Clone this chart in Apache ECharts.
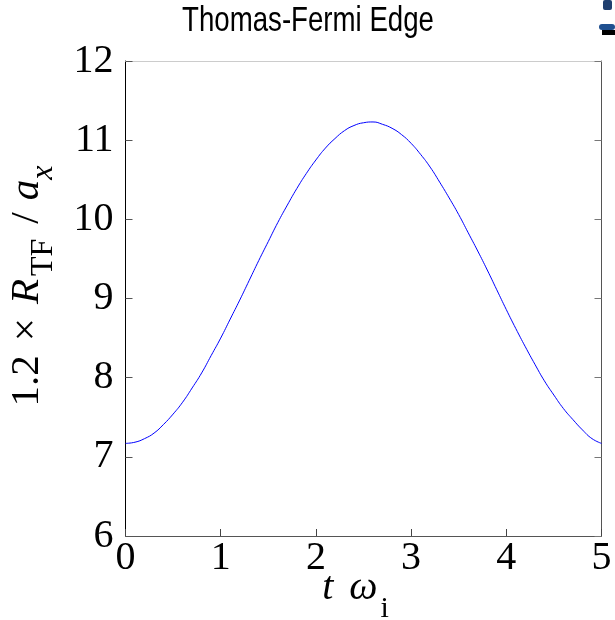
<!DOCTYPE html>
<html><head><meta charset="utf-8">
<script src="https://cdn.jsdelivr.net/npm/echarts@6/dist/echarts.min.js"></script>
<style>html,body{margin:0;padding:0;background:#fff}#c{width:615px;height:620px}</style>
</head><body><div id="c"></div>
<script>
const titleText = 'Thomas-Fermi Edge';
const xTicks = [0, 1, 2, 3, 4, 5];
const yTicks = [6, 7, 8, 9, 10, 11, 12];
const tValues = [0,0.1,0.2,0.3,0.4,0.5,0.6,0.7,0.8,0.9,1.0,1.1,1.2,1.3,1.4,1.5,1.6,1.7,1.8,1.9,2.0,2.1,2.2,2.3,2.4,2.5,2.6,2.7,2.8,2.9,3.0,3.1,3.2,3.3,3.4,3.5,3.6,3.7,3.8,3.9,4.0,4.1,4.2,4.3,4.4,4.5,4.6,4.7,4.8,4.9,5.0];
const rValues = [7.17,7.185,7.23,7.30,7.41,7.54,7.69,7.87,8.06,8.28,8.50,8.74,8.98,9.23,9.48,9.72,9.96,10.18,10.39,10.58,10.75,10.90,11.02,11.12,11.185,11.22,11.23,11.20,11.15,11.07,10.96,10.82,10.66,10.47,10.27,10.06,9.83,9.60,9.36,9.11,8.86,8.62,8.39,8.17,7.96,7.78,7.61,7.47,7.34,7.23,7.17];

const W = 615, H = 620;
const G = {left: 125.5, right: 13.5, top: 61, bottom: 84};
const gw = W - G.left - G.right, gh = H - G.top - G.bottom;
const serif = '"Liberation Serif","Times New Roman",serif';
const xMin = xTicks[0], xMax = xTicks[xTicks.length-1];
const yMin = yTicks[0], yMax = yTicks[yTicks.length-1];
const noLab = {show: false};
function tickAxis(pos, off, color) {
  return {
    type: 'value', interval: 1, position: pos, offset: off,
    axisLine: {show: false, onZero: false},
    axisTick: {show: true, length: 7, lineStyle: {color: color, width: 1}},
    axisLabel: noLab, splitLine: {show: false}
  };
}
const chart = echarts.init(document.getElementById('c'));
chart.setOption({
  animation: false,
  backgroundColor: '#fff',
  grid: Object.assign({outerBoundsMode: 'none', containLabel: false}, G),
  xAxis: [{
    type: 'value', min: xMin, max: xMax, interval: 1,
    position: 'bottom',
    axisLine: {onZero: false, lineStyle: {color: '#555', width: 1}},
    axisTick: {show: false},
    axisLabel: {fontFamily: serif, fontSize: 40, color: '#000', margin: 2},
    splitLine: {show: false},
    name: '{t|t}{w|ω}{s|i}', nameLocation: 'middle', nameGap: 32, nameMoveOverlap: false,
    nameTextStyle: {
      padding: [0, 16, 0, 0],
      rich: {
        t: {fontFamily: serif, fontStyle: 'italic', fontSize: 40, color: '#000', lineHeight: 40, verticalAlign: 'top', padding: [0, 16, 0, 0]},
        w: {fontFamily: serif, fontStyle: 'italic', fontSize: 40, color: '#000', lineHeight: 40, verticalAlign: 'top'},
        s: {fontFamily: serif, fontSize: 30, color: '#000', lineHeight: 56, verticalAlign: 'bottom', padding: [0, 0, 0, 3]}
      }
    }
  }, {
    type: 'value', min: xMin, max: xMax, position: 'top',
    axisLine: {show: true, onZero: false, lineStyle: {color: '#ccc', width: 1}},
    axisTick: {show: false}, axisLabel: noLab, splitLine: {show: false}
  },
  Object.assign(tickAxis('top', -gh, '#444'), {min: xMin, max: xMax})
  ],
  yAxis: [{
    type: 'value', min: yMin, max: yMax, interval: 1,
    position: 'left',
    axisLine: {show: true, onZero: false, lineStyle: {color: '#000', width: 1}},
    axisTick: {show: false},
    axisLabel: {fontFamily: serif, fontSize: 40, color: '#000', margin: 12},
    splitLine: {show: false},
    name: '{n|1.2}{m|×}{i|R}{s|TF}{d|/}{i|a}{si|x}', nameLocation: 'middle', nameGap: 66, nameRotate: 90, nameMoveOverlap: false,
    nameTextStyle: {
      padding: [0, 0, 0, 25],
      rich: {
        n: {fontFamily: serif, fontSize: 41, color: '#000', lineHeight: 40, verticalAlign: 'top'},
        m: {fontFamily: serif, fontSize: 41, color: '#000', lineHeight: 40, verticalAlign: 'top', padding: [0, 14, 0, 14]},
        d: {fontFamily: serif, fontSize: 41, color: '#000', lineHeight: 40, verticalAlign: 'top', padding: [0, 12, 0, 12]},
        i: {fontFamily: serif, fontStyle: 'italic', fontSize: 41, color: '#000', lineHeight: 40, verticalAlign: 'top'},
        s: {fontFamily: serif, fontSize: 32, color: '#000', lineHeight: 53, verticalAlign: 'bottom', padding: [0, 3, 0, 3]},
        si: {fontFamily: serif, fontStyle: 'italic', fontSize: 32, color: '#000', lineHeight: 53, verticalAlign: 'bottom'}
      }
    }
  }, {
    type: 'value', min: yMin, max: yMax, interval: 1, position: 'right',
    axisLine: {show: true, onZero: false, lineStyle: {color: '#555', width: 1}},
    axisTick: {show: false}, axisLabel: noLab, splitLine: {show: false}
  },
  Object.assign(tickAxis('right', -gw, '#555'), {min: yMin, max: yMax}),
  Object.assign(tickAxis('left', -gw, '#777'), {min: yMin, max: yMax})
  ],
  graphic: [
    {type: 'text', x: 308, y: 21, scaleX: 0.79,
     style: {text: titleText, fontFamily: '"Liberation Sans",Arial,sans-serif', fontSize: 35, fill: '#000', textAlign: 'center', textVerticalAlign: 'middle'}},
    {type: 'rect', shape: {x: 603, y: 0, width: 9, height: 10, r: 2}, style: {fill: '#1f3f6f'}},
    {type: 'rect', shape: {x: 599, y: 24, width: 16, height: 6, r: 3}, style: {fill: '#1f4f8f'}},
    {type: 'rect', shape: {x: 602, y: 30, width: 13, height: 5}, style: {fill: '#000'}}
  ],
  series: [{
    type: 'line', xAxisIndex: 0, yAxisIndex: 0,
    data: tValues.map((t, k) => [t, rValues[k]]),
    showSymbol: false, smooth: true,
    lineStyle: {color: '#0000ff', width: 1}
  }]
});
</script></body></html>
